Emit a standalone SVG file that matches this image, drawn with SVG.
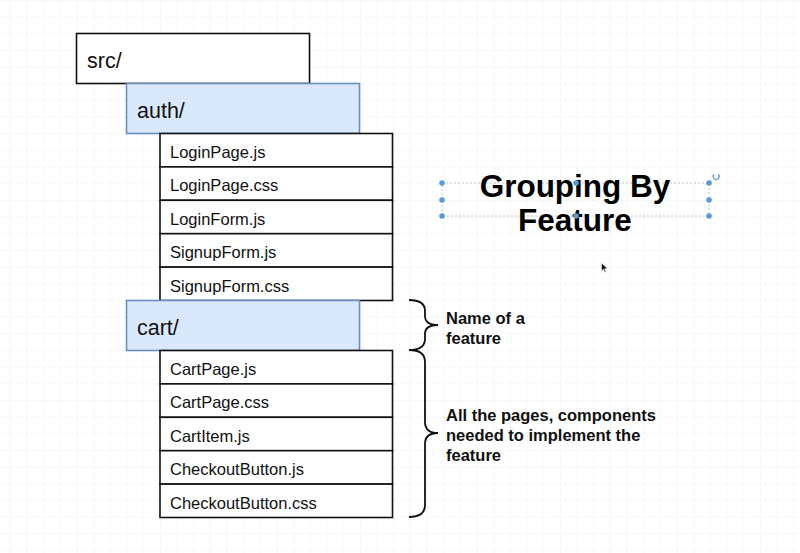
<svg xmlns="http://www.w3.org/2000/svg" width="800" height="553" viewBox="0 0 800 553">
  <defs>
    <pattern id="grid" patternUnits="userSpaceOnUse" x="10" y="0" width="16.667" height="16.667">
      <path d="M0,0 H16.667 M0,0 V16.667" fill="none" stroke="#efefef" stroke-width="1"/>
    </pattern>
    <style>
      .box { fill: #ffffff; stroke: #111111; stroke-width: 1.6; }
      .feat { fill: #dae8fc; stroke: #6c8ebf; stroke-width: 1.6; }
      .big { font-family: "Liberation Sans", Arial, sans-serif; font-size: 21.5px; fill: #111; }
      .file { font-family: "Liberation Sans", Arial, sans-serif; font-size: 16.5px; fill: #111; }
      .note { font-family: "Liberation Sans", Arial, sans-serif; font-size: 16.5px; font-weight: bold; fill: #111; }
      .title { font-family: "Liberation Sans", Arial, sans-serif; font-size: 31.5px; font-weight: bold; fill: #000; text-anchor: middle; }
      .brace { fill: none; stroke: #111; stroke-width: 1.8; }
      .handle { fill: #5b9bd5; }
    </style>
  </defs>
  <rect x="0" y="0" width="800" height="553" fill="#ffffff"/>
  <rect x="0" y="0" width="800" height="553" fill="url(#grid)"/>

  <g id="src">
    <rect class="box" x="76.5" y="33.5" width="233" height="50"/>
    <text class="big" x="87" y="68">src/</text>
  </g>
  <g id="auth">
    <rect class="feat" x="126.5" y="83.5" width="233" height="50"/>
    <text class="big" x="137" y="118">auth/</text>
  </g>
  <g id="auth-files">
    <g id="loginpage-js"><rect class="box" x="160" y="133.5" width="232.5" height="33.4"/><text class="file" x="170" y="158">LoginPage.js</text></g>
    <g id="loginpage-css"><rect class="box" x="160" y="166.9" width="232.5" height="33.4"/><text class="file" x="170" y="191.4">LoginPage.css</text></g>
    <g id="loginform-js"><rect class="box" x="160" y="200.3" width="232.5" height="33.4"/><text class="file" x="170" y="224.8">LoginForm.js</text></g>
    <g id="signupform-js"><rect class="box" x="160" y="233.7" width="232.5" height="33.4"/><text class="file" x="170" y="258.2">SignupForm.js</text></g>
    <g id="signupform-css"><rect class="box" x="160" y="267.1" width="232.5" height="33.4"/><text class="file" x="170" y="291.6">SignupForm.css</text></g>
  </g>
  <g id="cart">
    <rect class="feat" x="126.5" y="300.5" width="233" height="50"/>
    <text class="big" x="137" y="335">cart/</text>
  </g>
  <g id="cart-files">
    <g id="cartpage-js"><rect class="box" x="160" y="350.5" width="232.5" height="33.4"/><text class="file" x="170" y="375">CartPage.js</text></g>
    <g id="cartpage-css"><rect class="box" x="160" y="383.9" width="232.5" height="33.4"/><text class="file" x="170" y="408.4">CartPage.css</text></g>
    <g id="cartitem-js"><rect class="box" x="160" y="417.3" width="232.5" height="33.4"/><text class="file" x="170" y="441.8">CartItem.js</text></g>
    <g id="checkoutbutton-js"><rect class="box" x="160" y="450.7" width="232.5" height="33.4"/><text class="file" x="170" y="475.2">CheckoutButton.js</text></g>
    <g id="checkoutbutton-css"><rect class="box" x="160" y="484.1" width="232.5" height="33.4"/><text class="file" x="170" y="508.6">CheckoutButton.css</text></g>
  </g>

  <g id="connectors">
    <path class="brace" d="M409,300 Q425,300 425,311 L425,316 Q425,325 438,325 Q425,325 425,334 L425,339 Q425,350 409,350"/>
    <path class="brace" d="M409,350 Q425,350 425,362 L425,422 Q425,433 438,433 Q425,433 425,444 L425,505 Q425,517 409,517"/>
  </g>

  <g id="label-name">
    <text class="note" x="446" y="324">Name of a</text>
    <text class="note" x="446" y="344">feature</text>
  </g>
  <g id="label-pages">
    <text class="note" x="446" y="421">All the pages, components</text>
    <text class="note" x="446" y="441">needed to implement the</text>
    <text class="note" x="446" y="461">feature</text>
  </g>

  <g id="title">
    <rect x="442" y="183" width="267" height="33" fill="none" stroke="#b8b8b8" stroke-width="0.8" stroke-dasharray="2,2"/>
    <text class="title" x="575" y="197">Grouping By</text>
    <text class="title" x="575" y="231">Feature</text>
    <circle class="handle" cx="442" cy="183" r="2.8"/>
    <circle class="handle" cx="442" cy="200" r="2.8"/>
    <circle class="handle" cx="442" cy="216" r="2.8"/>
    <circle class="handle" cx="576" cy="183" r="2.8"/>
    <circle class="handle" cx="576" cy="216" r="2.8"/>
    <circle class="handle" cx="709" cy="183" r="2.8"/>
    <circle class="handle" cx="709" cy="200" r="2.8"/>
    <circle class="handle" cx="709" cy="216" r="2.8"/>
    <path d="M718.5,174.5 A3,3 0 1 1 714,174.5" fill="none" stroke="#5b9bd5" stroke-width="1.2"/>
  </g>
  <path d="M601.5,263 L601.5,271 L603.5,269 L605,272.5 L606,272 L604.7,268.7 L607.5,268.7 Z" fill="#111" stroke="#fff" stroke-width="0.5"/>
</svg>
